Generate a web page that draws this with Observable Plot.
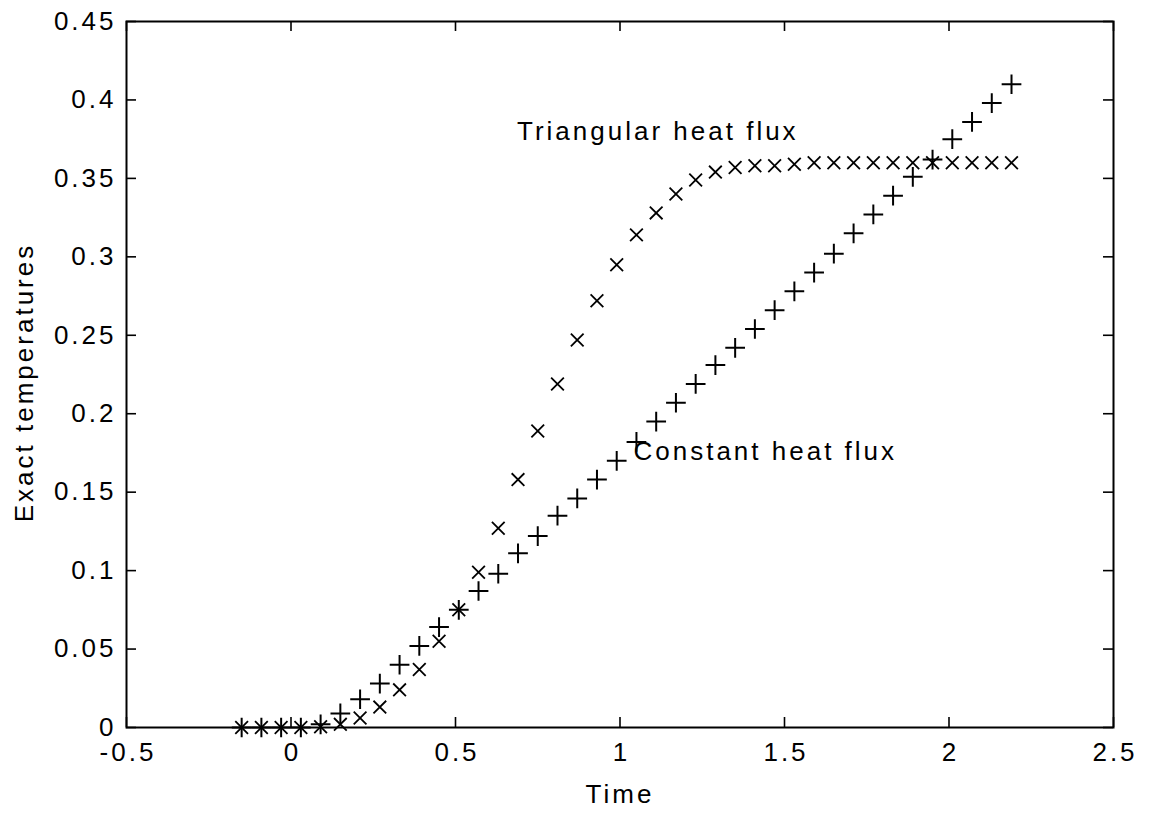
<!DOCTYPE html>
<html>
<head>
<meta charset="utf-8">
<script src="https://cdn.jsdelivr.net/npm/d3@7"></script>
<script src="https://cdn.jsdelivr.net/npm/@observablehq/plot@0.6"></script>
<style>
  html, body { margin: 0; padding: 0; background: #fff; }
</style>
</head>
<body>
<div id="chart"></div>
<script>
const time = [-0.15, -0.09, -0.03, 0.03, 0.09, 0.15, 0.21, 0.27, 0.33, 0.39,
  0.45, 0.51, 0.57, 0.63, 0.69, 0.75, 0.81, 0.87, 0.93, 0.99,
  1.05, 1.11, 1.17, 1.23, 1.29, 1.35, 1.41, 1.47, 1.53, 1.59,
  1.65, 1.71, 1.77, 1.83, 1.89, 1.95, 2.01, 2.07, 2.13, 2.19];

const constantFlux = [0, 0, 0, 0, 0.002, 0.009, 0.018, 0.028, 0.040, 0.052,
  0.064, 0.075, 0.087, 0.098, 0.111, 0.122, 0.135, 0.146, 0.158, 0.170,
  0.182, 0.195, 0.207, 0.219, 0.231, 0.242, 0.254, 0.266, 0.278, 0.290,
  0.302, 0.315, 0.327, 0.339, 0.351, 0.362, 0.375, 0.386, 0.398, 0.410];

const triangularFlux = [0, 0, 0, 0, 0.0005, 0.002, 0.006, 0.013, 0.024, 0.037,
  0.055, 0.075, 0.099, 0.127, 0.158, 0.189, 0.219, 0.247, 0.272, 0.295,
  0.314, 0.328, 0.340, 0.349, 0.354, 0.357, 0.358, 0.358, 0.359, 0.360,
  0.360, 0.360, 0.360, 0.360, 0.360, 0.360, 0.360, 0.360, 0.360, 0.360];

const xTicks = [-0.5, 0, 0.5, 1, 1.5, 2, 2.5];
const yTicks = [0, 0.05, 0.1, 0.15, 0.2, 0.25, 0.3, 0.35, 0.4, 0.45];

const annotationText = ["Triangular heat flux", "Constant heat flux"];
const annotationX = [0.687, 1.041];
const annotationY = [0.380, 0.1755];

const xLabel = "Time";
const yLabel = "Exact temperatures";

const constRows = time.map((t, i) => ({t, v: constantFlux[i]}));
const triRows = time.map((t, i) => ({t, v: triangularFlux[i]}));
const annotations = annotationText.map((s, i) => ({s, x: annotationX[i], y: annotationY[i]}));

const W = 1149, H = 813;
const mL = 126, mR = 36, mT = 21, mB = 86;
const plotW = W - mL - mR, plotH = H - mT - mB;
const tickLen = 10;
const FS = 26;

const chart = Plot.plot({
  width: W,
  height: H,
  marginLeft: mL,
  marginRight: mR,
  marginTop: mT,
  marginBottom: mB,
  style: {fontFamily: "'Liberation Sans', Arial, Helvetica, sans-serif", fontSize: FS + "px", letterSpacing: "3px", background: "#fff", color: "#000"},
  x: {domain: [-0.5, 2.5]},
  y: {domain: [0, 0.45]},
  marks: [
    Plot.frame({stroke: "#000", strokeWidth: 2}),
    // inward tick marks on all four sides
    Plot.tickX(xTicks, {x: d => d, insetTop: plotH - tickLen, stroke: "#000", strokeWidth: 1.6}),
    Plot.tickX(xTicks, {x: d => d, insetBottom: plotH - tickLen, stroke: "#000", strokeWidth: 1.6}),
    Plot.tickY(yTicks, {y: d => d, insetRight: plotW - tickLen, stroke: "#000", strokeWidth: 1.6}),
    Plot.tickY(yTicks, {y: d => d, insetLeft: plotW - tickLen, stroke: "#000", strokeWidth: 1.6}),
    Plot.axisX({ticks: xTicks, tickSize: 0, tickPadding: 15, tickFormat: d => String(d), fontSize: FS, dx: 1.5, label: null}),
    Plot.axisY({ticks: yTicks, tickSize: 0, tickPadding: 10, tickFormat: d => String(d), fontSize: FS, label: null}),
    Plot.dot(constRows, {x: "t", y: "v", symbol: "plus", r: 6.4, stroke: "#000", strokeWidth: 2}),
    Plot.dot(triRows, {x: "t", y: "v", symbol: "times", r: 5.84, stroke: "#000", strokeWidth: 1.8}),
    Plot.text(annotations, {x: "x", y: "y", text: "s", textAnchor: "start", lineAnchor: "middle", fontSize: FS, fill: "#000"}),
    Plot.text([xLabel], {text: d => d, frameAnchor: "bottom", textAnchor: "middle", dy: 67, lineAnchor: "middle", fontSize: FS, fill: "#000"}),
    Plot.text([yLabel], {text: d => d, frameAnchor: "left", textAnchor: "middle", rotate: -90, dx: -102, dy: 8, lineAnchor: "middle", fontSize: FS, fill: "#000"})
  ]
});
document.getElementById("chart").appendChild(chart);
</script>
</body>
</html>
